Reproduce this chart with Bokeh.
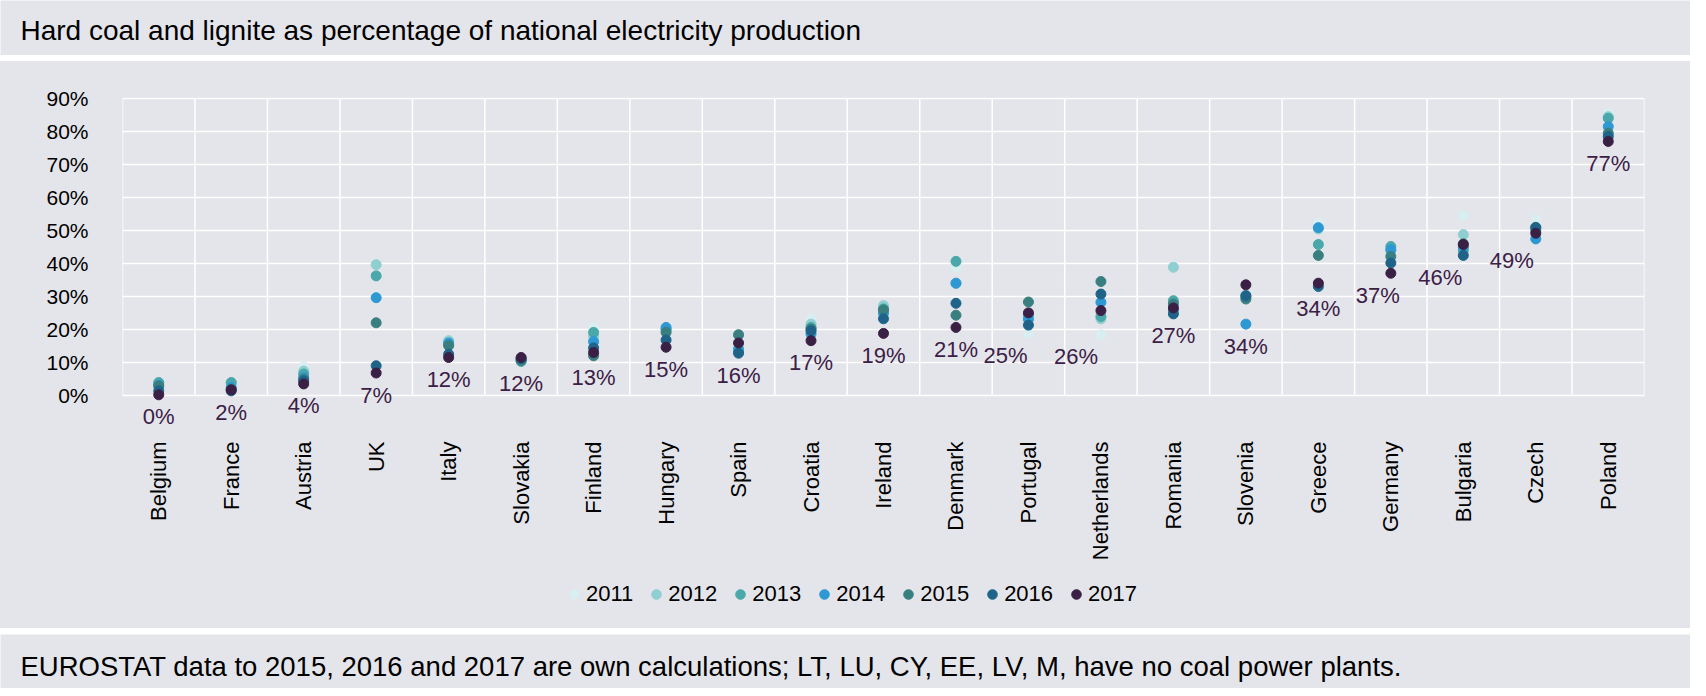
from math import pi
from bokeh.plotting import figure
from bokeh.layouts import column
from bokeh.models import FixedTicker, PrintfTickFormatter, Legend, LegendItem, Label, Range1d
from bokeh.core.properties import value
from bokeh.embed import file_html
from bokeh.resources import INLINE

# data (shares in % of national electricity production)
countries = ["Belgium", "France", "Austria", "UK", "Italy", "Slovakia", "Finland",
             "Hungary", "Spain", "Croatia", "Ireland", "Denmark", "Portugal",
             "Netherlands", "Romania", "Slovenia", "Greece", "Germany", "Bulgaria",
             "Czech", "Poland"]
years = ["2011", "2012", "2013", "2014", "2015", "2016", "2017"]

share_2011 = [3.8, 3.5, 8.8, 30.0, 16.5, 11.0, 20.7, 20.0, 15.0, 23.3, 24.0,
              38.9, 18.9, 18.5, 39.2, 30.0, 52.3, 43.0, 54.6, 53.3, 85.4]
share_2012 = [3.9, 4.0, 7.5, 39.7, 16.7, 11.2, 18.0, 20.3, 18.3, 21.7, 27.3,
              34.0, 24.0, 23.3, 38.9, 30.5, 50.5, 44.0, 48.8, 50.5, 84.5]
share_2013 = [4.0, 4.0, 6.6, 36.3, 15.5, 10.4, 19.2, 20.0, 14.2, 20.7, 26.3,
              40.7, 24.5, 24.0, 28.8, 30.0, 45.8, 45.2, 44.0, 50.0, 84.0]
share_2014 = [3.2, 2.5, 5.5, 29.7, 16.0, 10.8, 16.4, 20.7, 13.6, 18.7, 25.0,
              34.1, 23.2, 28.3, 26.0, 21.7, 50.9, 44.2, 45.0, 47.5, 81.5]
share_2015 = [3.0, 2.0, 5.0, 22.1, 15.2, 10.7, 12.1, 19.2, 18.5, 20.2, 26.0,
              24.4, 28.4, 34.6, 27.8, 29.3, 42.5, 42.2, 46.0, 51.0, 79.5]
share_2016 = [1.5, 1.5, 4.5, 9.1, 12.6, 11.3, 14.5, 16.9, 12.9, 19.7, 23.3,
              28.0, 21.4, 30.8, 24.8, 30.3, 33.1, 40.2, 42.5, 50.9, 78.5]
share_2017 = [0.3, 1.8, 3.6, 6.9, 11.6, 11.6, 13.1, 14.7, 16.0, 16.7, 18.9,
              20.7, 25.1, 25.8, 26.6, 33.6, 34.1, 37.1, 45.8, 49.2, 77.0]
y_ticks = [0, 10, 20, 30, 40, 50, 60, 70, 80, 90]

title_text = "Hard coal and lignite as percentage of national electricity production"
footer_text = ("EUROSTAT data to 2015, 2016 and 2017 are own calculations; "
               "LT, LU, CY, EE, LV, M, have no coal power plants.")

GRAY = "#e4e5ea"
FONT = "Liberation Sans"
year_colors = ["#d8eef0", "#8fcfd1", "#4aa8aa", "#2e98d3", "#3a7f80", "#1f6488", "#3b2046"]
# labels pushed sideways where they would collide
label_nudge = {"Portugal": -23, "Netherlands": -25, "Germany": -13,
               "Bulgaria": -23, "Czech": -24}

series = [share_2011, share_2012, share_2013, share_2014, share_2015, share_2016, share_2017]
xs = list(range(1, len(countries) + 1))
bounds = [x - 0.5 for x in xs] + [xs[-1] + 0.5]
label_y = [min(v) for v in zip(*series)]
label_txt = ["%d%%" % round(v) for v in share_2017]
label_dx = [label_nudge.get(c, 0) for c in countries]


def band(height, text, y, size):
    b = figure(width=1690, height=height, x_axis_type=None, y_axis_type=None,
               output_backend="svg", toolbar_location=None, min_border=0,
               background_fill_color=GRAY, border_fill_color=GRAY, outline_line_color=None)
    b.frame_align = False
    b.add_layout(Label(x=20, y=y, x_units="screen", y_units="screen", text=text,
                       text_font=FONT, text_font_size=size, text_baseline="middle",
                       text_color="black"))
    return b


# title band
t = band(55, title_text, 25, "28px")
t.margin = (0, 0, 6, 0)

# main chart (grey comes from the element style, so no seams between border panels)
p = figure(width=1690, height=502, x_range=Range1d(0.5, 21.5), y_range=Range1d(-10.5, 90.3),
           output_backend="svg", toolbar_location=None,
           background_fill_color=None, border_fill_color=None, outline_line_color=None,
           min_border_left=122, min_border_right=46, min_border_top=36, min_border_bottom=133)
p.styles = {"background-color": GRAY}
p.frame_align = False
p.xgrid.visible = False
p.ygrid.ticker = FixedTicker(ticks=y_ticks)
p.ygrid.grid_line_color = "white"
p.ygrid.grid_line_width = 1.5
p.segment(x0=bounds, y0=0, x1=bounds, y1=90, line_color="white", line_width=1.5)

p.yaxis.ticker = FixedTicker(ticks=y_ticks)
p.yaxis.formatter = PrintfTickFormatter(format="%d%%")
p.xaxis.ticker = FixedTicker(ticks=xs)
p.xaxis.major_label_overrides = {x: c for x, c in zip(xs, countries)}
p.xaxis.major_label_orientation = pi / 2
p.xaxis.major_label_standoff = 5
p.yaxis.major_label_standoff = 28
for ax in (p.xaxis, p.yaxis):
    ax.axis_line_color = None
    ax.major_tick_line_color = None
    ax.minor_tick_line_color = None
    ax.major_label_text_font = FONT
    ax.major_label_text_color = "black"
p.xaxis.major_label_text_font_size = "22px"
p.yaxis.major_label_text_font_size = "21px"

for vals, col in zip(series, year_colors):
    p.scatter(xs, vals, size=10, fill_color=col, line_color=col)

p.text(x=xs, y=label_y, text=label_txt, x_offset=label_dx, y_offset=22,
       text_align="center", text_baseline="middle", text_font=value(FONT),
       text_font_size="22px", text_color="#3b2046")

# legend strip, lower part of the same grey panel
leg = figure(width=1690, height=65, x_axis_type=None, y_axis_type=None,
             output_backend="svg", toolbar_location=None, min_border=0,
             background_fill_color=None, border_fill_color=None, outline_line_color=None)
leg.styles = {"background-color": GRAY}
leg.frame_align = False
items = []
for yr, vals, col in zip(years, series, year_colors):
    r = leg.scatter(xs, vals, size=10, fill_color=col, line_color=col, visible=False)
    items.append(LegendItem(label=yr, renderers=[r]))
legend = Legend(items=items, orientation="horizontal", location=(562, 21),
                background_fill_alpha=0, border_line_color=None,
                label_text_font=FONT, label_text_font_size="22px", label_text_color="black",
                glyph_width=24, glyph_height=24, label_standoff=0, spacing=11,
                padding=5, margin=0, inactive_fill_alpha=0)
leg.add_layout(legend)

# footer band
f = band(54, footer_text, 22, "27.5px")
f.margin = (6, 0, 0, 0)

layout = column(t, p, leg, f, spacing=0)
open("out.html", "w").write(file_html(layout, INLINE))
